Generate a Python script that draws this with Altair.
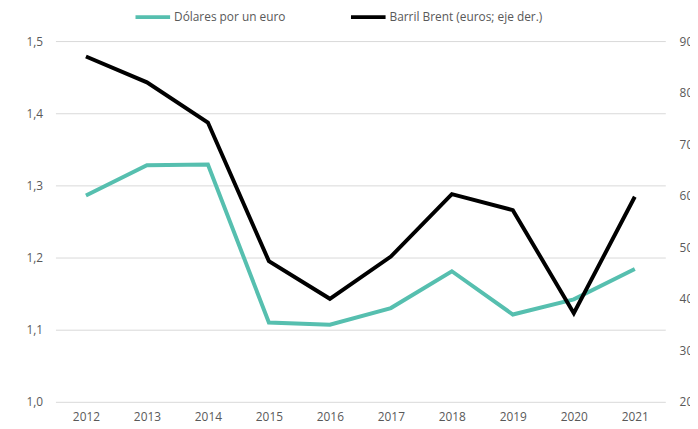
import altair as alt
import pandas as pd

years = ["2012", "2013", "2014", "2015", "2016", "2017", "2018", "2019", "2020", "2021"]
usd_per_eur = [1.286, 1.328, 1.329, 1.110, 1.107, 1.130, 1.181, 1.121, 1.142, 1.184]
brent_eur = [87.0, 82.0, 74.2, 47.3, 40.0, 48.2, 60.3, 57.2, 37.2, 59.8]

s1 = "Dólares por un euro"
s2 = "Barril Brent (euros; eje der.)"

df = pd.DataFrame(
    [{"year": y, "serie": s1, "v": v} for y, v in zip(years, usd_per_eur)]
    + [{"year": y, "serie": s2, "v": v} for y, v in zip(years, brent_eur)]
)

FONT = "Open Sans"
GRAY = "#595959"

color = alt.Color(
    "serie:N",
    scale=alt.Scale(domain=[s1, s2], range=["#56BFAF", "#000000"]),
    legend=alt.Legend(
        title=None,
        orient="none",
        legendX=79,
        legendY=-44,
        direction="horizontal",
        symbolType="stroke",
        symbolSize=1225,
        symbolStrokeWidth=4,
        labelFont=FONT,
        labelFontSize=12,
        labelColor=GRAY,
        labelOffset=2,
        columnPadding=58,
    ),
)

x = alt.X(
    "year:N",
    sort=years,
    title=None,
    axis=alt.Axis(
        labelAngle=0,
        domain=False,
        ticks=False,
        labelPadding=10,
        labelFont=FONT,
        labelFontSize=12,
        labelColor=GRAY,
    ),
)

left = (
    alt.Chart(df)
    .transform_filter(alt.datum.serie == s1)
    .mark_line(strokeWidth=4)
    .encode(
        x=x,
        y=alt.Y(
            "v:Q",
            title=None,
            scale=alt.Scale(domain=[1.0, 1.5], nice=False, zero=False),
            axis=alt.Axis(
                values=[1.0, 1.1, 1.2, 1.3, 1.4, 1.5],
                labelExpr="replace(format(datum.value, '.1f'), '.', ',')",
                domain=False,
                ticks=False,
                grid=True,
                gridColor="#D9D9D9",
                gridWidth=1,
                labelPadding=13,
                labelFont=FONT,
                labelFontSize=12,
                labelColor=GRAY,
            ),
        ),
        color=color,
    )
)

right = (
    alt.Chart(df)
    .transform_filter(alt.datum.serie == s2)
    .mark_line(strokeWidth=4)
    .encode(
        x=x,
        y=alt.Y(
            "v:Q",
            title=None,
            scale=alt.Scale(domain=[20, 90], nice=False, zero=False),
            axis=alt.Axis(
                orient="right",
                values=[20, 30, 40, 50, 60, 70, 80, 90],
                format="d",
                domain=False,
                ticks=False,
                grid=False,
                labelPadding=14,
                labelFont=FONT,
                labelFontSize=12,
                labelColor=GRAY,
            ),
        ),
        color=color,
    )
)

chart = (
    alt.layer(left, right)
    .resolve_scale(y="independent")
    .properties(
        width=617,
        height=365,
        autosize=alt.AutoSizeParams(type="none"),
        padding={"left": 48, "top": 31, "right": 25, "bottom": 25},
    )
    .configure_view(stroke=None)
)

chart.save("out.html", embed_options={"renderer": "svg", "actions": False})
